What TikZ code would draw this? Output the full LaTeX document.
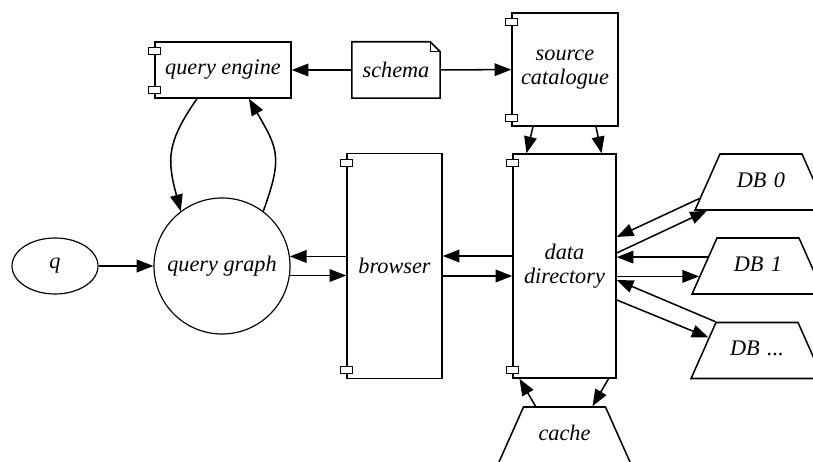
\documentclass[tikz,border=0pt]{standalone}
\usepackage{fontspec}
\setmainfont{Liberation Serif}
\usetikzlibrary{arrows.meta,calc,shapes.geometric}

\tikzset{
    every node/.style={font=\fontsize{19}{20}\selectfont\itshape, align=center},
    comp/.style={draw, rectangle, line width=1.3pt, inner sep=0pt},
    store/.style={draw, trapezium, trapezium left angle=66, trapezium right angle=66,
        text width=70pt, text height=13pt, text depth=4pt,
        inner xsep=0pt, inner ysep=15.4pt, line width=1.3pt},
    link/.style={-{Triangle[length=5mm,width=3.8mm]}, line width=1.3pt},
}

\begin{document}
\begin{tikzpicture}[x=0.3mm, y=0.3mm]
        \clip (0,0) rectangle (813,462);

        % Nodes
        \node[draw, ellipse, line width=1pt, minimum width=25.8mm, minimum height=16.8mm] (q) at (55,196) {q};
        \node[draw, circle, line width=1pt, minimum size=40.8mm, inner sep=0pt] (qg) at (222,196) {query graph};
        \node[comp, minimum width=40.8mm, minimum height=16.8mm] (qe) at (223,392) {query engine};
        \node[minimum width=26.4mm, minimum height=16.8mm, inner sep=0pt] (sch) at (396,392) {schema};
        \node[comp, minimum width=31.8mm, minimum height=33.9mm] (sc) at (565,392.5) {source\\catalogue};
        \node[comp, minimum width=28.5mm, minimum height=67.5mm] (br) at (394.5,196) {browser};
        \node[comp, minimum width=30.9mm, minimum height=67.2mm] (dd) at (564.5,196) {data\\directory};
        \node[store] (db0) at (761,280) {DB 0};
        \node[store] (db1) at (758,196) {DB 1};
        \node[store] (dbn) at (757,111.5) {DB ...};
        \node[store] (cache) at (564.5,27) {cache};

        % Outline of the schema note with its folded corner
        \draw[line width=1.3pt] (sch.north west) -- ($(sch.north east)+(-10,0)$) -- ($(sch.north east)+(0,-10)$)
            -- (sch.south east) -- (sch.south west) -- cycle;
        \draw[line width=0.9pt] ($(sch.north east)+(-10,0)$) -- ($(sch.north east)+(-10,-10)$) -- ($(sch.north east)+(0,-10)$);

        % Small tabs on the components
        \foreach \c in {qe,sc,br,dd} {
            \draw[line width=0.9pt, fill=white] ($(\c.north west)+(-6,-13.5)$) rectangle ++(12,7);
            \draw[line width=0.9pt, fill=white] ($(\c.south west)+(-6,5.5)$) rectangle ++(12,7);
        }

        % Arrows
        \draw[link] (q) -- (qg);
        \draw[link] (sch) -- (qe);
        \draw[link] (sch) -- (sc);
        \draw[link] ($(qe.south)+(-26,0)$) to[out=235, in=105, looseness=1.2] (qg.127);
        \draw[link] (qg.53) to[out=70, in=300, looseness=1.3] ($(qe.south)+(26,0)$);
        \draw[link] ($(sc.south)+(-32,0)$) -- ($(dd.north)+(-38,0)$);
        \draw[link] ($(sc.south)+(31,0)$) -- ($(dd.north)+(37,0)$);

        \draw[link] (br.west |- qg.8) -- (qg.8);
        \draw[link] (qg.352) -- (br.west |- qg.352);
        \draw[link] ($(dd.west)+(0,10)$) -- ($(br.east)+(0,10)$);
        \draw[link] ($(br.east)+(0,-10)$) -- ($(dd.west)+(0,-10)$);

        \draw[link] (db0.195) -- ($(dd.east)+(0,29)$);
        \draw[link] ($(dd.east)+(0,13)$) -- (db0.208);
        \draw[link] (db1.170) -- (db1.170 -| dd.east);
        \draw[link] (dd.east |- db1.190) -- (db1.190);
        \draw[link] (dbn.top left corner) -- ($(dd.east)+(0,-14)$);
        \draw[link] ($(dd.east)+(0,-34)$) -- (dbn.165);

        \draw[link] ($(cache.north)+(-29,0)$) -- ($(dd.south)+(-45,0)$);
        \draw[link] ($(dd.south)+(44,0)$) -- ($(cache.north)+(28,0)$);
    \end{tikzpicture}
\end{document}
